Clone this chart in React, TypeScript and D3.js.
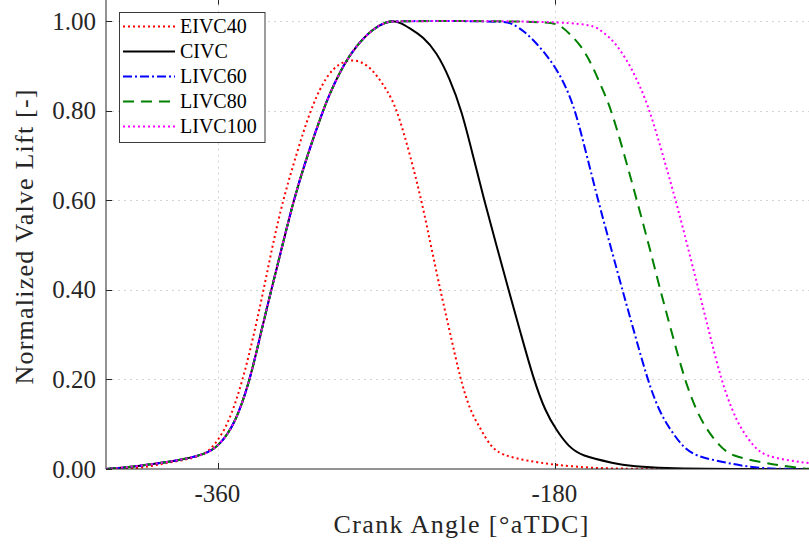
import React from 'react';
import * as d3 from 'd3';

// ---- data ----
const xTicks = [-360, -180];
const yTicks = [0, 0.2, 0.4, 0.6, 0.8, 1.0];
const yTickLabels = ['0.00', '0.20', '0.40', '0.60', '0.80', '1.00'];

const seriesNames = ['EIVC40', 'CIVC', 'LIVC60', 'LIVC80', 'LIVC100'];
const seriesColors = ['#ff0000', '#000000', '#0000ff', '#008000', '#ff00ff'];
const seriesDash = ['2 3', '', '9 3 2 3', '11 7', '2 3'];

// common opening flank shared by CIVC / LIVC profiles (angle, lift)
const commonOpening: [number, number][] = [
  [-420, 0], [-410, 0.003], [-395, 0.011], [-380, 0.02], [-367, 0.033],
  [-360, 0.05], [-351, 0.10], [-343, 0.20], [-337.5, 0.30], [-331.7, 0.40],
  [-325.7, 0.50], [-319.8, 0.60], [-312.5, 0.70], [-304.1, 0.80], [-300.3, 0.84],
  [-293.2, 0.902], [-286.1, 0.946], [-277.2, 0.984], [-270, 0.998], [-267, 1.0],
];

const eivc40: [number, number][] = [
  [-420, 0], [-403, 0], [-390, 0.012], [-378, 0.02], [-368, 0.031],
  [-362.5, 0.05], [-354.5, 0.10], [-346.8, 0.20], [-341, 0.30], [-335.8, 0.40],
  [-331, 0.50], [-325.5, 0.60], [-318.5, 0.70], [-311, 0.80], [-303.9, 0.865],
  [-298.6, 0.894], [-293.2, 0.91], [-287, 0.914], [-280.7, 0.903], [-275.4, 0.879],
  [-270, 0.846], [-264.7, 0.805], [-257.5, 0.70], [-251.5, 0.60], [-246.5, 0.50],
  [-241.5, 0.40], [-236, 0.30], [-230.7, 0.20], [-225.5, 0.13], [-220.5, 0.094],
  [-214.7, 0.05], [-208.5, 0.031], [-195, 0.018], [-180, 0.009], [-160, 0.002],
  [-140, 0], [-40, 0],
];

const civcClosing: [number, number][] = [
  [-263, 0.997], [-257.8, 0.984], [-250.7, 0.965], [-243.5, 0.931], [-236.4, 0.872],
  [-230, 0.80], [-224, 0.70], [-218, 0.60], [-211.5, 0.50], [-205, 0.40],
  [-198.3, 0.30], [-191.6, 0.20], [-185.5, 0.13], [-179.5, 0.087], [-173, 0.05],
  [-166, 0.029], [-150, 0.014], [-133, 0], [-40, 0],
];

const livc60Closing: [number, number][] = [
  [-208, 1.0], [-203, 0.995], [-196, 0.975], [-190, 0.95], [-184, 0.92],
  [-179, 0.89], [-174, 0.85], [-169.3, 0.80], [-163.2, 0.70], [-157.2, 0.60],
  [-150.7, 0.50], [-144.2, 0.40], [-137.5, 0.30], [-130.8, 0.20], [-124.7, 0.13],
  [-118.5, 0.087], [-112, 0.05], [-105.5, 0.029], [-90, 0.015], [-77.6, 0.005],
  [-64, 0], [-40, 0],
];

const livc80Closing: [number, number][] = [
  [-183, 1.0], [-177, 0.99], [-172, 0.97], [-166.6, 0.946], [-162, 0.915],
  [-157.7, 0.876], [-154, 0.84], [-150, 0.80], [-143, 0.70], [-136.5, 0.60],
  [-130, 0.50], [-124, 0.40], [-117.5, 0.30], [-111, 0.20], [-104.7, 0.13],
  [-99, 0.087], [-92, 0.05], [-86, 0.029], [-70, 0.015], [-60, 0.008],
  [-46, 0], [-40, 0],
];

const livc100Closing: [number, number][] = [
  [-163, 1.0], [-156, 0.98], [-150, 0.96], [-145.3, 0.935], [-140, 0.90],
  [-134.6, 0.853], [-129.5, 0.80], [-122.5, 0.70], [-115.7, 0.60], [-109.5, 0.50],
  [-103.5, 0.40], [-97.5, 0.30], [-91.5, 0.20], [-85.5, 0.13], [-80.5, 0.087],
  [-74, 0.05], [-68.2, 0.029], [-55, 0.019], [-44.8, 0.013], [-30, 0.006],
];

const seriesData: [number, number][][] = [
  eivc40,
  [...commonOpening, ...civcClosing],
  [...commonOpening, ...livc60Closing],
  [...commonOpening, ...livc80Closing],
  [...commonOpening, ...livc100Closing],
];

const FONT = '"Liberation Serif", "Times New Roman", serif';

export default function App() {
  const W = 809;
  const H = 548;
  const left = 106;
  const bottom = 469;
  const pxPerDeg = 1.8722;
  const xDomain: [number, number] = [-420, -40];
  const right = left + (xDomain[1] - xDomain[0]) * pxPerDeg;
  const top = bottom - 1.05 * 448;

  const x = d3.scaleLinear().domain(xDomain).range([left, right]);
  const y = d3.scaleLinear().domain([0, 1.05]).range([bottom, top]);

  const line = d3
    .line<[number, number]>()
    .x((d) => x(d[0]))
    .y((d) => y(d[1]))
    .curve(d3.curveBasis);

  const axisColor = '#262626';
  const gridColor = '#d4d4d4';
  const tickLen = 6;

  const legendX = 119.5;
  const legendY = 12.5;
  const rowH = 25;

  return (
    <svg
      width={W}
      height={H}
      style={{ position: 'absolute', left: 0, top: 0, background: '#fff' }}
      fontFamily={FONT}
    >
      <defs>
        <clipPath id="plotClip">
          <rect x={left} y={top} width={right - left} height={bottom - top} />
        </clipPath>
      </defs>
      <rect x={0} y={0} width={W} height={H} fill="#fff" />

      {/* grid */}
      <g stroke={gridColor} strokeWidth={1} strokeDasharray="2 4">
        {yTicks.slice(1).map((t) => (
          <line key={'gy' + t} x1={left} x2={right} y1={Math.round(y(t)) + 0.5} y2={Math.round(y(t)) + 0.5} />
        ))}
        {xTicks.map((t) => (
          <line key={'gx' + t} x1={Math.round(x(t)) + 0.5} x2={Math.round(x(t)) + 0.5} y1={top} y2={bottom} />
        ))}
      </g>

      {/* curves */}
      <g clipPath="url(#plotClip)" fill="none">
        {seriesData.map((d, i) => (
          <path
            key={seriesNames[i]}
            d={line(d) || ''}
            stroke={seriesColors[i]}
            strokeWidth={2}
            strokeDasharray={seriesDash[i] || undefined}
            strokeLinejoin="round"
          />
        ))}
      </g>

      {/* axes */}
      <g stroke={axisColor} strokeWidth={1}>
        <line x1={left} x2={left} y1={top} y2={bottom} />
        <line x1={left} x2={right} y1={bottom} y2={bottom} />
        <line x1={left} x2={right} y1={top} y2={top} />
        {xTicks.map((t) => (
          <g key={'xt' + t}>
            <line x1={Math.round(x(t)) + 0.5} x2={Math.round(x(t)) + 0.5} y1={bottom} y2={bottom - tickLen} />
            <line x1={Math.round(x(t)) + 0.5} x2={Math.round(x(t)) + 0.5} y1={top} y2={top + tickLen} />
          </g>
        ))}
        {yTicks.map((t) => (
          <line key={'yt' + t} x1={left} x2={left + tickLen} y1={Math.round(y(t)) + 0.5} y2={Math.round(y(t)) + 0.5} />
        ))}
      </g>

      {/* tick labels */}
      <g fill="#262626" fontSize={25}>
        {yTicks.map((t, i) => (
          <text key={'yl' + t} x={96} y={y(t) + 8.5} textAnchor="end">
            {yTickLabels[i]}
          </text>
        ))}
        {xTicks.map((t) => (
          <text key={'xl' + t} x={x(t) - 1} y={502} textAnchor="middle">
            {t}
          </text>
        ))}
      </g>

      {/* axis labels */}
      <text
        x={461}
        y={533}
        textAnchor="middle"
        fontSize={26}
        fill="#262626"
        textLength={255}
        lengthAdjust="spacing"
      >
        Crank Angle [°aTDC]
      </text>
      <text
        transform="translate(33,237) rotate(-90)"
        textAnchor="middle"
        fontSize={26}
        fill="#262626"
        textLength={295}
        lengthAdjust="spacing"
      >
        Normalized Valve Lift [-]
      </text>

      {/* legend */}
      <g>
        <rect x={legendX} y={legendY} width={145.5} height={130} fill="#fff" stroke="#3a3a3a" strokeWidth={1} />
        {seriesNames.map((name, i) => {
          const cy = legendY + 14 + i * rowH;
          return (
            <g key={'lg' + name}>
              <line
                x1={123}
                x2={175}
                y1={cy}
                y2={cy}
                stroke={seriesColors[i]}
                strokeWidth={2}
                strokeDasharray={seriesDash[i] || undefined}
              />
              <text x={180} y={cy + 6.8} fontSize={20} fill="#000">
                {name}
              </text>
            </g>
          );
        })}
      </g>
    </svg>
  );
}
